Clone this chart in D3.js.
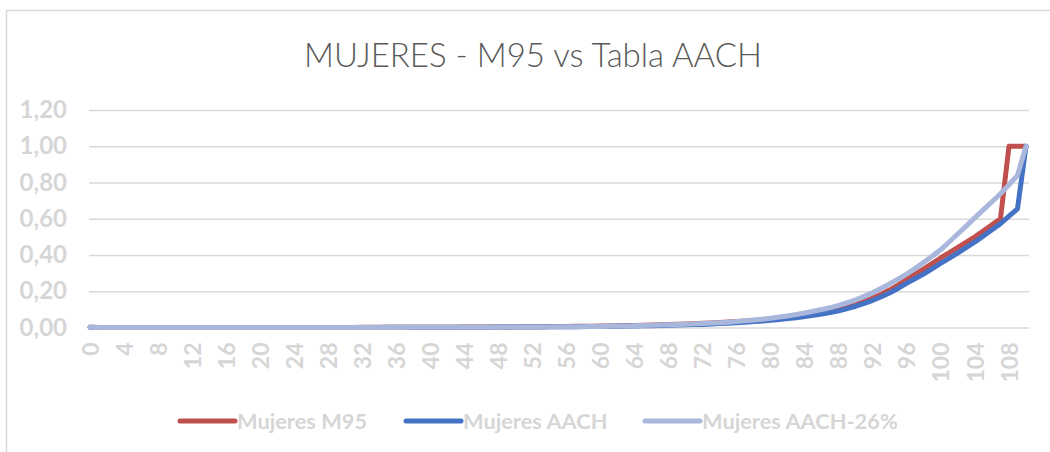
<!DOCTYPE html>
<html>
<head>
<meta charset="utf-8">
<script src="https://cdn.jsdelivr.net/npm/d3@7"></script>
<style>
  html, body { margin: 0; padding: 0; background: #ffffff; }
  svg { display: block; }
</style>
</head>
<body>
<svg id="chart" width="1050" height="452"></svg>
<script>
// ---- Data ----
const title = "MUJERES - M95 vs Tabla AACH";
const ages = d3.range(0, 111); // 0..110 categories
const yTicks = [0, 0.2, 0.4, 0.6, 0.8, 1.0, 1.2];
const xTickLabels = [0,4,8,12,16,20,24,28,32,36,40,44,48,52,56,60,64,68,72,76,80,84,88,92,96,100,104,108];
const seriesNames = ["Mujeres M95", "Mujeres AACH", "Mujeres AACH-26%"];

const m95 = [
0.0012,0.0006,0.0004,0.0003,0.0002,0.0002,0.0002,0.0002,0.0002,0.0002,
0.0002,0.0002,0.0002,0.0002,0.0002,0.0003,0.0003,0.0003,0.0003,0.0003,
0.0004,0.0004,0.0004,0.0004,0.0004,0.0004,0.0005,0.0005,0.0005,0.0005,
0.0006,0.0006,0.0007,0.0007,0.0008,0.0009,0.0010,0.0011,0.0012,0.0013,
0.0014,0.0016,0.0017,0.0019,0.0021,0.0023,0.0025,0.0027,0.0030,0.0032,
0.0035,0.0038,0.0042,0.0045,0.0049,0.0054,0.0058,0.0063,0.0069,0.0075,
0.0081,0.0088,0.0096,0.0105,0.0114,0.0125,0.0136,0.0149,0.0163,0.0178,
0.0195,0.0213,0.0233,0.0254,0.0277,0.0302,0.0330,0.0360,0.0393,0.0429,
0.0468,0.0514,0.0565,0.0622,0.0685,0.0755,0.0832,0.0915,0.1005,0.1125,
0.1265,0.1425,0.1620,0.1840,0.2080,0.2350,0.2650,0.2940,0.3230,0.3540,
0.3850,0.4130,0.4420,0.4710,0.5000,0.5330,0.5660,0.6000,1.0000,1.0000,
1.0000];

const aach = [
0.0010,0.0005,0.0003,0.0002,0.0002,0.0002,0.0001,0.0001,0.0001,0.0001,
0.0001,0.0001,0.0001,0.0002,0.0002,0.0002,0.0003,0.0003,0.0003,0.0003,
0.0003,0.0003,0.0003,0.0003,0.0003,0.0003,0.0004,0.0004,0.0004,0.0004,
0.0005,0.0005,0.0005,0.0006,0.0006,0.0007,0.0007,0.0008,0.0009,0.0010,
0.0011,0.0012,0.0013,0.0014,0.0015,0.0017,0.0018,0.0020,0.0022,0.0024,
0.0026,0.0028,0.0030,0.0033,0.0036,0.0039,0.0042,0.0046,0.0050,0.0054,
0.0059,0.0064,0.0070,0.0077,0.0084,0.0092,0.0101,0.0111,0.0122,0.0134,
0.0147,0.0159,0.0172,0.0192,0.0214,0.0238,0.0265,0.0294,0.0326,0.0361,
0.0400,0.0443,0.0490,0.0543,0.0600,0.0668,0.0744,0.0828,0.0920,0.1041,
0.1174,0.1327,0.1500,0.1697,0.1918,0.2168,0.2450,0.2700,0.2960,0.3250,
0.3550,0.3830,0.4120,0.4420,0.4720,0.5050,0.5390,0.5730,0.6140,0.6550,
1.0000];

const aach26 = [
0.0008,0.0004,0.0002,0.0002,0.0002,0.0002,0.0001,0.0001,0.0001,0.0001,
0.0001,0.0001,0.0001,0.0001,0.0001,0.0001,0.0002,0.0002,0.0002,0.0002,
0.0002,0.0002,0.0002,0.0002,0.0002,0.0002,0.0003,0.0003,0.0003,0.0003,
0.0004,0.0004,0.0004,0.0005,0.0005,0.0005,0.0006,0.0006,0.0007,0.0008,
0.0009,0.0010,0.0011,0.0012,0.0013,0.0014,0.0016,0.0017,0.0019,0.0021,
0.0023,0.0025,0.0027,0.0030,0.0033,0.0036,0.0039,0.0043,0.0047,0.0052,
0.0062,0.0069,0.0077,0.0086,0.0096,0.0107,0.0119,0.0133,0.0148,0.0164,
0.0181,0.0200,0.0220,0.0242,0.0267,0.0296,0.0330,0.0370,0.0411,0.0458,
0.0510,0.0575,0.0640,0.0715,0.0800,0.0895,0.0990,0.1100,0.1220,0.1370,
0.1530,0.1720,0.1930,0.2170,0.2420,0.2680,0.2960,0.3270,0.3600,0.3940,
0.4300,0.4730,0.5170,0.5610,0.6060,0.6500,0.6940,0.7380,0.7880,0.8390,
1.0000];

const seriesValues = [m95, aach, aach26];
const seriesColors = ["#C0504D", "#4472C4", "#A9B7DC"];

// ---- Layout ----
const svg = d3.select("#chart");
const W = 1050, H = 452;
const plot = { left: 90, right: 1026, top: 110, bottom: 327.5 };

const x = d3.scaleLinear().domain([0, 110]).range([plot.left, plot.right]);
const y = d3.scaleLinear().domain([0, 1.2]).range([plot.bottom, plot.top]);

// chart border (top and left visible)
svg.append("path")
  .attr("d", `M6.5,${H} L6.5,10.5 L${W},10.5`)
  .attr("fill", "none")
  .attr("stroke", "#d9d9d9")
  .attr("stroke-width", 1.5);

// title
svg.append("text")
  .attr("x", 533).attr("y", 67)
  .attr("text-anchor", "middle")
  .attr("font-family", "Lato, 'Open Sans', sans-serif")
  .attr("font-weight", 300)
  .attr("font-size", 33)
  .attr("fill", "#595959")
  .text(title);

// gridlines + y labels
const yAxis = d3.axisLeft(y).tickValues(yTicks)
  .tickSize(-(plot.right + 4 - plot.left))
  .tickPadding(22)
  .tickFormat(d => d3.format(".2f")(d).replace(".", ","));

const gy = svg.append("g")
  .attr("transform", `translate(${plot.left - 1},0)`)
  .call(yAxis);
gy.select(".domain").remove();
gy.selectAll(".tick line").attr("stroke", "#d9d9d9").attr("stroke-width", 1.6);
gy.selectAll(".tick text")
  .attr("fill", "#d6d6d6")
  .attr("font-family", "Lato, 'Open Sans', sans-serif")
  .attr("font-weight", 700)
  .attr("font-size", 24);

// x axis
const xAxis = d3.axisBottom(x).tickValues(xTickLabels).tickSize(0).tickFormat(d3.format("d"));
const gx = svg.append("g")
  .attr("transform", `translate(0,${plot.bottom})`)
  .call(xAxis);
gx.select(".domain").remove();
gx.selectAll(".tick text")
  .attr("fill", "#d6d6d6")
  .attr("font-family", "Lato, 'Open Sans', sans-serif")
  .attr("font-weight", 700)
  .attr("font-size", 23)
  .attr("text-anchor", "end")
  .attr("transform", "rotate(-90)")
  .attr("x", -15)
  .attr("y", 0)
  .attr("dy", "0.35em");

// lines
const line = d3.line()
  .x((d, i) => x(ages[i]))
  .y(d => y(d));

seriesValues.forEach((vals, k) => {
  svg.append("path")
    .datum(vals)
    .attr("fill", "none")
    .attr("stroke", seriesColors[k])
    .attr("stroke-width", 5)
    .attr("stroke-linejoin", "round")
    .attr("stroke-linecap", "round")
    .attr("d", line);
});

// legend
const legendX = [180, 406, 645];
const lg = svg.append("g");
seriesNames.forEach((name, k) => {
  const g = lg.append("g").attr("transform", `translate(${legendX[k]},421)`);
  g.append("line")
    .attr("x1", 0).attr("x2", 55)
    .attr("y1", 0).attr("y2", 0)
    .attr("stroke", seriesColors[k])
    .attr("stroke-width", 5)
    .attr("stroke-linecap", "round");
  g.append("text")
    .attr("x", 57).attr("y", 0).attr("dy", "0.35em")
    .attr("font-family", "Lato, 'Open Sans', sans-serif")
    .attr("font-weight", 700)
    .attr("font-size", 21.8)
    .attr("fill", "#d6d6d6")
    .text(name);
});
</script>
</body>
</html>
